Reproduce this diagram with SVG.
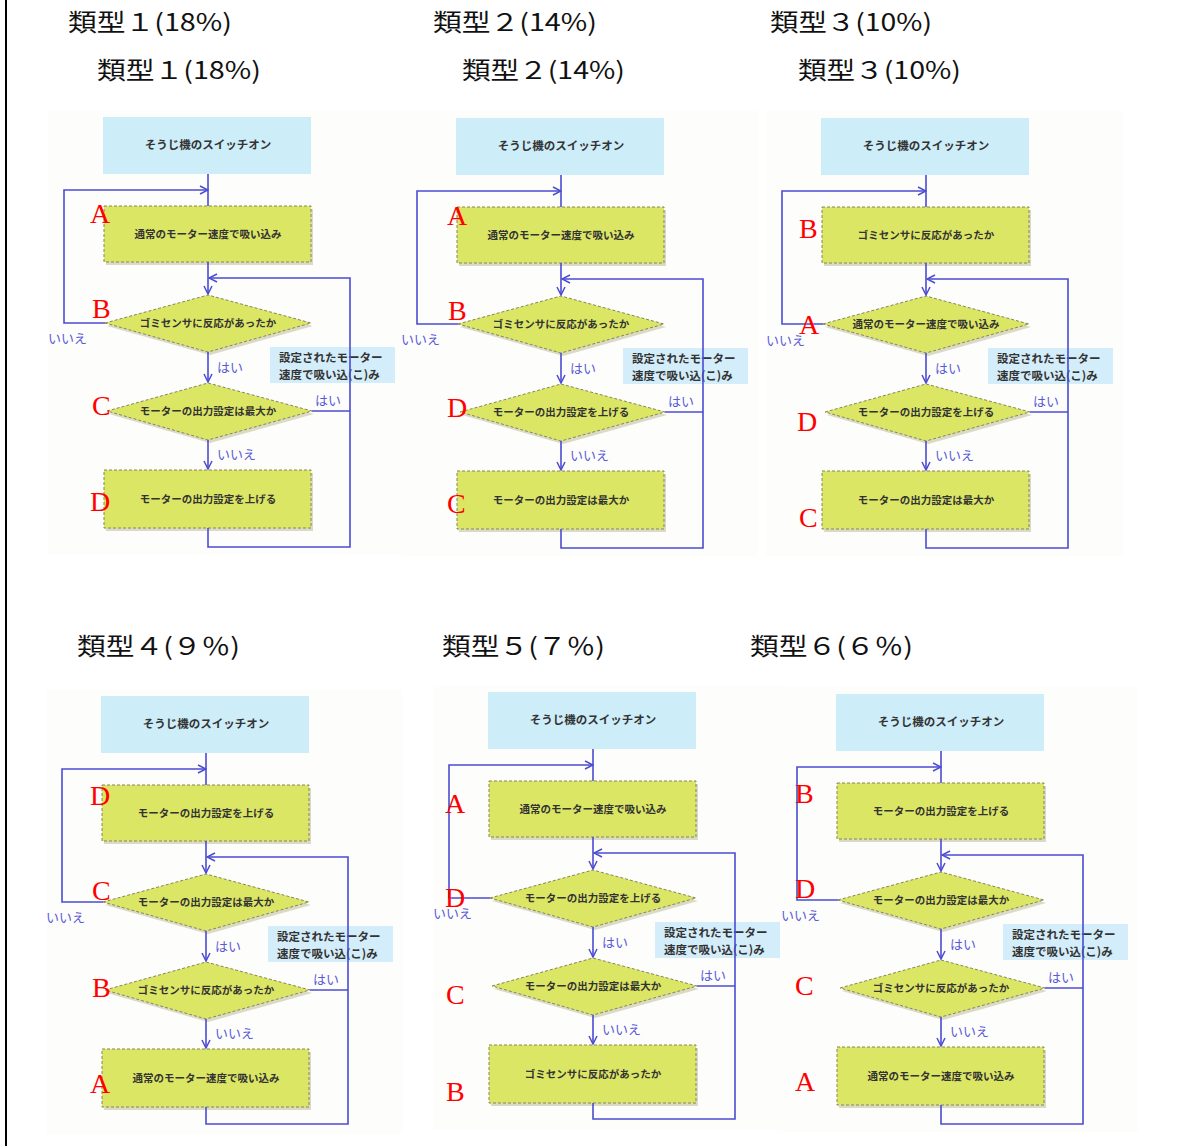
<svg xmlns="http://www.w3.org/2000/svg" width="1195" height="1146" viewBox="0 0 1195 1146">
<defs>
<marker id="ah" viewBox="0 0 10 10" refX="9" refY="5" markerWidth="10" markerHeight="10" markerUnits="userSpaceOnUse" orient="auto">
<path d="M1,1 L9,5 L1,9" fill="none" stroke="#4b4bd4" stroke-width="1.5"/>
</marker>
</defs>
<style>
.bg{fill:#fdfdfc}
.start{fill:#cdedf9}
.proc{fill:#dce665;stroke:#85855a;stroke-width:1;stroke-dasharray:3 2}
.shadow{fill:#b8b88e;opacity:.5}
.note{fill:#d3eefa}
.t{font-family:"Noto Sans CJK JP",sans-serif;font-weight:bold;fill:#333;text-anchor:middle}
.n{font-size:10.5px}
.s{font-size:11.5px}
.nt{font-family:"Noto Sans CJK JP",sans-serif;font-weight:bold;fill:#333;font-size:11.5px}
.yn{font-family:"Noto Sans CJK JP",sans-serif;font-size:13px;fill:#5a5ad6}
.lab{font-family:"Liberation Serif",serif;font-size:28px;fill:#ff0000}
.conn{fill:none;stroke:#4b4bd4;stroke-width:1.6}
.title{font-family:"Noto Sans CJK JP",sans-serif;font-size:24px;fill:#111}
</style>
<rect x="0" y="0" width="1195" height="1146" fill="#ffffff"/>
<line x1="6" y1="0" x2="6" y2="1146" stroke="#000" stroke-width="2"/>

<g id="titles">
<text class="title" x="68" y="31" textLength="164" lengthAdjust="spacingAndGlyphs">類型１(18%)</text>
<text class="title" x="433" y="31" textLength="164" lengthAdjust="spacingAndGlyphs">類型２(14%)</text>
<text class="title" x="770" y="31" textLength="162" lengthAdjust="spacingAndGlyphs">類型３(10%)</text>
<text class="title" x="97" y="79" textLength="164" lengthAdjust="spacingAndGlyphs">類型１(18%)</text>
<text class="title" x="462" y="79" textLength="163" lengthAdjust="spacingAndGlyphs">類型２(14%)</text>
<text class="title" x="798" y="79" textLength="163" lengthAdjust="spacingAndGlyphs">類型３(10%)</text>
<text class="title" x="77" y="655" textLength="163" lengthAdjust="spacingAndGlyphs">類型４(９％)</text>
<text class="title" x="442" y="655" textLength="163" lengthAdjust="spacingAndGlyphs">類型５(７％)</text>
<text class="title" x="750" y="655" textLength="163" lengthAdjust="spacingAndGlyphs">類型６(６％)</text>
</g>

<!-- Panel 1 -->
<g id="p1" transform="translate(208,117)">
<rect class="bg" x="-160" y="-7" width="357" height="445"/>
<g id="p1-start"><rect class="start" x="-105" y="0" width="208" height="57"/><text class="t s" x="0" y="32">そうじ機のスイッチオン</text></g>
<g id="p1-n1"><rect class="shadow" x="-102" y="92" width="207" height="56"/><rect class="proc" x="-104" y="89" width="207" height="56"/><text class="t n" x="0" y="121">通常のモーター速度で吸い込み</text></g>
<g id="p1-n2"><polygon class="shadow" points="-101,209 2,181 105,209 2,238"/><polygon class="proc" points="-103,206 0,178 103,206 0,235"/><text class="t n" x="0" y="210">ゴミセンサに反応があったか</text></g>
<g id="p1-note"><rect class="note" x="62" y="230" width="125" height="36"/><text class="nt" x="71" y="245">設定されたモーター</text><text class="nt" x="71" y="262">速度で吸い込(こ)み</text></g>
<g id="p1-n3"><polygon class="shadow" points="-99,297 2,269 106,297 2,326"/><polygon class="proc" points="-101,294 0,266 104,294 0,323"/><text class="t n" x="0" y="298">モーターの出力設定は最大か</text></g>
<g id="p1-n4"><rect class="shadow" x="-102" y="356" width="207" height="58"/><rect class="proc" x="-104" y="353" width="207" height="58"/><text class="t n" x="0" y="386">モーターの出力設定を上げる</text></g>
<g id="p1-conn">
<path class="conn" d="M0,57 V89"/>
<path class="conn" d="M-103,206 H-144 V73 H0" marker-end="url(#ah)"/>
<path class="conn" d="M0,145 V177" marker-end="url(#ah)"/>
<path class="conn" d="M0,235 V265" marker-end="url(#ah)"/>
<path class="conn" d="M104,294 H142"/>
<path class="conn" d="M0,323 V352" marker-end="url(#ah)"/>
<path class="conn" d="M0,411 V430 H142 V161 H1" marker-end="url(#ah)"/>
<text class="yn" x="-160" y="226">いいえ</text>
<text class="yn" x="9" y="255">はい</text>
<text class="yn" x="107" y="288">はい</text>
<text class="yn" x="9" y="342">いいえ</text>
</g>
<g id="p1-labels"><text class="lab" x="-118" y="106">A</text><text class="lab" x="-116" y="201">B</text><text class="lab" x="-116" y="298">C</text><text class="lab" x="-118" y="394">D</text></g>
</g>

<!-- Panel 2 -->
<g id="p2" transform="translate(561,118)">
<rect class="bg" x="-160" y="-7" width="357" height="445"/>
<g id="p2-start"><rect class="start" x="-105" y="0" width="208" height="57"/><text class="t s" x="0" y="32">そうじ機のスイッチオン</text></g>
<g id="p2-n1"><rect class="shadow" x="-102" y="92" width="207" height="56"/><rect class="proc" x="-104" y="89" width="207" height="56"/><text class="t n" x="0" y="121">通常のモーター速度で吸い込み</text></g>
<g id="p2-n2"><polygon class="shadow" points="-101,209 2,181 105,209 2,238"/><polygon class="proc" points="-103,206 0,178 103,206 0,235"/><text class="t n" x="0" y="210">ゴミセンサに反応があったか</text></g>
<g id="p2-note"><rect class="note" x="62" y="230" width="125" height="36"/><text class="nt" x="71" y="245">設定されたモーター</text><text class="nt" x="71" y="262">速度で吸い込(こ)み</text></g>
<g id="p2-n3"><polygon class="shadow" points="-99,297 2,269 106,297 2,326"/><polygon class="proc" points="-101,294 0,266 104,294 0,323"/><text class="t n" x="0" y="298">モーターの出力設定を上げる</text></g>
<g id="p2-n4"><rect class="shadow" x="-102" y="356" width="207" height="58"/><rect class="proc" x="-104" y="353" width="207" height="58"/><text class="t n" x="0" y="386">モーターの出力設定は最大か</text></g>
<g id="p2-conn">
<path class="conn" d="M0,57 V89"/>
<path class="conn" d="M-103,206 H-144 V73 H0" marker-end="url(#ah)"/>
<path class="conn" d="M0,145 V177" marker-end="url(#ah)"/>
<path class="conn" d="M0,235 V265" marker-end="url(#ah)"/>
<path class="conn" d="M104,294 H142"/>
<path class="conn" d="M0,323 V352" marker-end="url(#ah)"/>
<path class="conn" d="M0,411 V430 H142 V161 H1" marker-end="url(#ah)"/>
<text class="yn" x="-160" y="226">いいえ</text>
<text class="yn" x="9" y="255">はい</text>
<text class="yn" x="107" y="288">はい</text>
<text class="yn" x="9" y="342">いいえ</text>
</g>
<g id="p2-labels"><text class="lab" x="-114" y="107">A</text><text class="lab" x="-113" y="202">B</text><text class="lab" x="-114" y="299">D</text><text class="lab" x="-114" y="395">C</text></g>
</g>

<!-- Panel 3 -->
<g id="p3" transform="translate(926,118)">
<rect class="bg" x="-160" y="-7" width="357" height="445"/>
<g id="p3-start"><rect class="start" x="-105" y="0" width="208" height="57"/><text class="t s" x="0" y="32">そうじ機のスイッチオン</text></g>
<g id="p3-n1"><rect class="shadow" x="-102" y="92" width="207" height="56"/><rect class="proc" x="-104" y="89" width="207" height="56"/><text class="t n" x="0" y="121">ゴミセンサに反応があったか</text></g>
<g id="p3-n2"><polygon class="shadow" points="-101,209 2,181 105,209 2,238"/><polygon class="proc" points="-103,206 0,178 103,206 0,235"/><text class="t n" x="0" y="210">通常のモーター速度で吸い込み</text></g>
<g id="p3-note"><rect class="note" x="62" y="230" width="125" height="36"/><text class="nt" x="71" y="245">設定されたモーター</text><text class="nt" x="71" y="262">速度で吸い込(こ)み</text></g>
<g id="p3-n3"><polygon class="shadow" points="-99,297 2,269 106,297 2,326"/><polygon class="proc" points="-101,294 0,266 104,294 0,323"/><text class="t n" x="0" y="298">モーターの出力設定を上げる</text></g>
<g id="p3-n4"><rect class="shadow" x="-102" y="356" width="207" height="58"/><rect class="proc" x="-104" y="353" width="207" height="58"/><text class="t n" x="0" y="386">モーターの出力設定は最大か</text></g>
<g id="p3-conn">
<path class="conn" d="M0,57 V89"/>
<path class="conn" d="M-103,206 H-144 V73 H0" marker-end="url(#ah)"/>
<path class="conn" d="M0,145 V177" marker-end="url(#ah)"/>
<path class="conn" d="M0,235 V265" marker-end="url(#ah)"/>
<path class="conn" d="M104,294 H142"/>
<path class="conn" d="M0,323 V352" marker-end="url(#ah)"/>
<path class="conn" d="M0,411 V430 H142 V161 H1" marker-end="url(#ah)"/>
<text class="yn" x="-160" y="227">いいえ</text>
<text class="yn" x="9" y="255">はい</text>
<text class="yn" x="107" y="288">はい</text>
<text class="yn" x="9" y="342">いいえ</text>
</g>
<g id="p3-labels"><text class="lab" x="-127" y="120">B</text><text class="lab" x="-127" y="216">A</text><text class="lab" x="-129" y="313">D</text><text class="lab" x="-127" y="409">C</text></g>
</g>

<!-- Panel 4 -->
<g id="p4" transform="translate(206,696)">
<rect class="bg" x="-160" y="-7" width="357" height="445"/>
<g id="p4-start"><rect class="start" x="-105" y="0" width="208" height="57"/><text class="t s" x="0" y="32">そうじ機のスイッチオン</text></g>
<g id="p4-n1"><rect class="shadow" x="-102" y="92" width="207" height="56"/><rect class="proc" x="-104" y="89" width="207" height="56"/><text class="t n" x="0" y="121">モーターの出力設定を上げる</text></g>
<g id="p4-n2"><polygon class="shadow" points="-101,209 2,181 105,209 2,238"/><polygon class="proc" points="-103,206 0,178 103,206 0,235"/><text class="t n" x="0" y="210">モーターの出力設定は最大か</text></g>
<g id="p4-note"><rect class="note" x="62" y="230" width="125" height="36"/><text class="nt" x="71" y="245">設定されたモーター</text><text class="nt" x="71" y="262">速度で吸い込(こ)み</text></g>
<g id="p4-n3"><polygon class="shadow" points="-99,297 2,269 106,297 2,326"/><polygon class="proc" points="-101,294 0,266 104,294 0,323"/><text class="t n" x="0" y="298">ゴミセンサに反応があったか</text></g>
<g id="p4-n4"><rect class="shadow" x="-102" y="356" width="207" height="58"/><rect class="proc" x="-104" y="353" width="207" height="58"/><text class="t n" x="0" y="386">通常のモーター速度で吸い込み</text></g>
<g id="p4-conn">
<path class="conn" d="M0,57 V89"/>
<path class="conn" d="M-103,206 H-144 V73 H0" marker-end="url(#ah)"/>
<path class="conn" d="M0,145 V177" marker-end="url(#ah)"/>
<path class="conn" d="M0,235 V265" marker-end="url(#ah)"/>
<path class="conn" d="M104,294 H142"/>
<path class="conn" d="M0,323 V352" marker-end="url(#ah)"/>
<path class="conn" d="M0,411 V428 H142 V161 H1" marker-end="url(#ah)"/>
<text class="yn" x="-160" y="226">いいえ</text>
<text class="yn" x="9" y="255">はい</text>
<text class="yn" x="107" y="288">はい</text>
<text class="yn" x="9" y="342">いいえ</text>
</g>
<g id="p4-labels"><text class="lab" x="-116" y="109">D</text><text class="lab" x="-114" y="204">C</text><text class="lab" x="-114" y="301">B</text><text class="lab" x="-116" y="397">A</text></g>
</g>

<!-- Panel 5 -->
<g id="p5" transform="translate(593,692)">
<rect class="bg" x="-160" y="-7" width="357" height="445"/>
<g id="p5-start"><rect class="start" x="-105" y="0" width="208" height="57"/><text class="t s" x="0" y="32">そうじ機のスイッチオン</text></g>
<g id="p5-n1"><rect class="shadow" x="-102" y="92" width="207" height="56"/><rect class="proc" x="-104" y="89" width="207" height="56"/><text class="t n" x="0" y="121">通常のモーター速度で吸い込み</text></g>
<g id="p5-n2"><polygon class="shadow" points="-101,209 2,181 105,209 2,238"/><polygon class="proc" points="-103,206 0,178 103,206 0,235"/><text class="t n" x="0" y="210">モーターの出力設定を上げる</text></g>
<g id="p5-note"><rect class="note" x="62" y="230" width="125" height="36"/><text class="nt" x="71" y="245">設定されたモーター</text><text class="nt" x="71" y="262">速度で吸い込(こ)み</text></g>
<g id="p5-n3"><polygon class="shadow" points="-99,297 2,269 106,297 2,326"/><polygon class="proc" points="-101,294 0,266 104,294 0,323"/><text class="t n" x="0" y="298">モーターの出力設定は最大か</text></g>
<g id="p5-n4"><rect class="shadow" x="-102" y="356" width="207" height="58"/><rect class="proc" x="-104" y="353" width="207" height="58"/><text class="t n" x="0" y="386">ゴミセンサに反応があったか</text></g>
<g id="p5-conn">
<path class="conn" d="M0,57 V89"/>
<path class="conn" d="M-103,206 H-144 V73 H0" marker-end="url(#ah)"/>
<path class="conn" d="M0,145 V177" marker-end="url(#ah)"/>
<path class="conn" d="M0,235 V265" marker-end="url(#ah)"/>
<path class="conn" d="M104,294 H142"/>
<path class="conn" d="M0,323 V352" marker-end="url(#ah)"/>
<path class="conn" d="M0,411 V427 H142 V161 H1" marker-end="url(#ah)"/>
<text class="yn" x="-160" y="226">いいえ</text>
<text class="yn" x="9" y="255">はい</text>
<text class="yn" x="107" y="288">はい</text>
<text class="yn" x="9" y="342">いいえ</text>
</g>
<g id="p5-labels"><text class="lab" x="-148" y="121">A</text><text class="lab" x="-148" y="215">D</text><text class="lab" x="-147" y="312">C</text><text class="lab" x="-147" y="409">B</text></g>
</g>

<!-- Panel 6 -->
<g id="p6" transform="translate(941,694)">
<rect class="bg" x="-160" y="-7" width="357" height="445"/>
<g id="p6-start"><rect class="start" x="-105" y="0" width="208" height="57"/><text class="t s" x="0" y="32">そうじ機のスイッチオン</text></g>
<g id="p6-n1"><rect class="shadow" x="-102" y="92" width="207" height="56"/><rect class="proc" x="-104" y="89" width="207" height="56"/><text class="t n" x="0" y="121">モーターの出力設定を上げる</text></g>
<g id="p6-n2"><polygon class="shadow" points="-101,209 2,181 105,209 2,238"/><polygon class="proc" points="-103,206 0,178 103,206 0,235"/><text class="t n" x="0" y="210">モーターの出力設定は最大か</text></g>
<g id="p6-note"><rect class="note" x="62" y="230" width="125" height="36"/><text class="nt" x="71" y="245">設定されたモーター</text><text class="nt" x="71" y="262">速度で吸い込(こ)み</text></g>
<g id="p6-n3"><polygon class="shadow" points="-99,297 2,269 106,297 2,326"/><polygon class="proc" points="-101,294 0,266 104,294 0,323"/><text class="t n" x="0" y="298">ゴミセンサに反応があったか</text></g>
<g id="p6-n4"><rect class="shadow" x="-102" y="356" width="207" height="58"/><rect class="proc" x="-104" y="353" width="207" height="58"/><text class="t n" x="0" y="386">通常のモーター速度で吸い込み</text></g>
<g id="p6-conn">
<path class="conn" d="M0,57 V89"/>
<path class="conn" d="M-103,206 H-144 V73 H0" marker-end="url(#ah)"/>
<path class="conn" d="M0,145 V177" marker-end="url(#ah)"/>
<path class="conn" d="M0,235 V265" marker-end="url(#ah)"/>
<path class="conn" d="M104,294 H142"/>
<path class="conn" d="M0,323 V352" marker-end="url(#ah)"/>
<path class="conn" d="M0,411 V430 H142 V161 H1" marker-end="url(#ah)"/>
<text class="yn" x="-160" y="226">いいえ</text>
<text class="yn" x="9" y="255">はい</text>
<text class="yn" x="107" y="288">はい</text>
<text class="yn" x="9" y="342">いいえ</text>
</g>
<g id="p6-labels"><text class="lab" x="-146" y="109">B</text><text class="lab" x="-146" y="204">D</text><text class="lab" x="-146" y="301">C</text><text class="lab" x="-146" y="397">A</text></g>
</g>
</svg>
